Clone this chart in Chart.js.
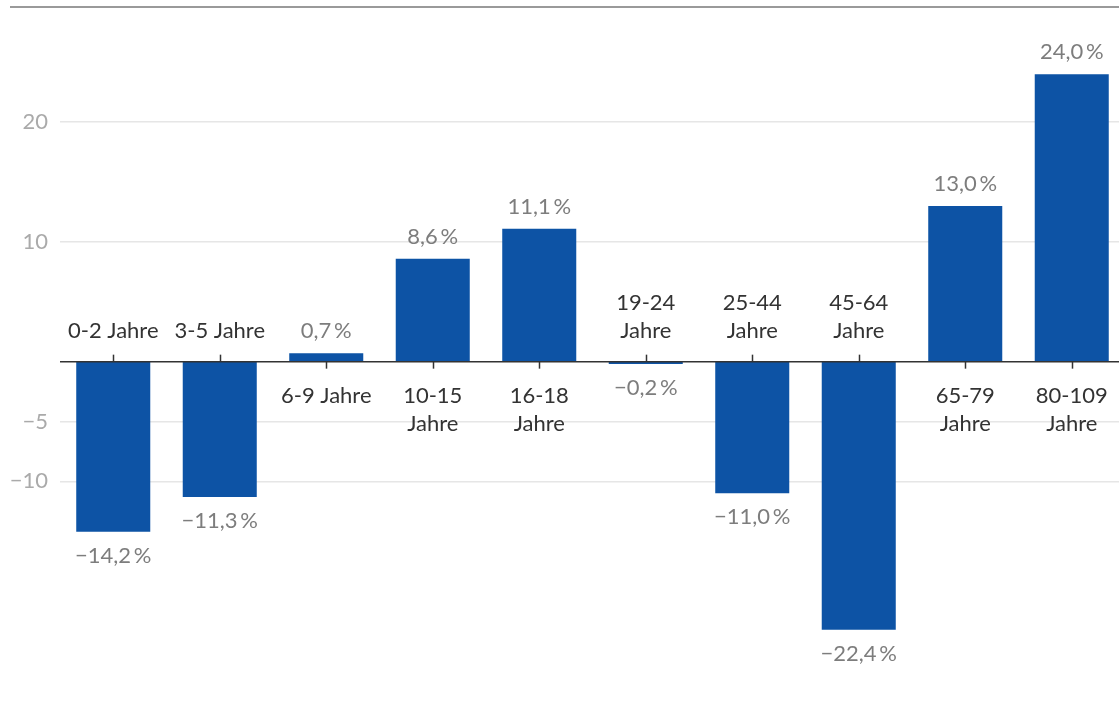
<!DOCTYPE html>
<html lang="de">
<head>
<meta charset="utf-8">
<script src="https://cdn.jsdelivr.net/npm/chart.js@4"></script>
<style>
  html, body { margin: 0; padding: 0; background: #fff; overflow: hidden; }
  #wrap { position: relative; width: 1119px; height: 706px; overflow: hidden; }
  #topline { position: absolute; left: 10px; right: 0; top: 6px; border-top: 2px solid #9a9a9a; }
  canvas { position: absolute; left: 0; top: 0; }
</style>
</head>
<body>
<div id="wrap">
  <div id="topline"></div>
  <canvas id="chart" width="1125" height="706"></canvas>
</div>
<script>
const CATEGORIES = [
  ['0-2 Jahre'], ['3-5 Jahre'], ['6-9 Jahre'], ['10-15', 'Jahre'], ['16-18', 'Jahre'],
  ['19-24', 'Jahre'], ['25-44', 'Jahre'], ['45-64', 'Jahre'], ['65-79', 'Jahre'], ['80-109', 'Jahre']
];
const VALUES = [-14.2, -11.3, 0.7, 8.6, 11.1, -0.2, -11.0, -22.4, 13.0, 24.0];
const Y_TICKS = [-10, -5, 10, 20];

const FONT = 'Lato, "Noto Sans", sans-serif';
const FONT_SIZE = 22;
const BAR_COLOR = '#0d53a5';
const fmtNum = (v) => String(v).replace('-', '\u2212');
const fmtPct = (v) => v.toFixed(1).replace('.', ',').replace('-', '\u2212') + '\u2009%';

// zero line, category ticks, category labels, value labels
const labelsPlugin = {
  id: 'labels',
  afterDatasetsDraw(chart) {
    const { ctx, chartArea } = chart;
    const y0 = chart.scales.y.getPixelForValue(0);
    const meta = chart.getDatasetMeta(0);
    ctx.save();
    ctx.strokeStyle = '#333';
    ctx.lineWidth = 1.5;
    ctx.beginPath();
    ctx.moveTo(chartArea.left, y0);
    ctx.lineTo(chartArea.right, y0);
    ctx.stroke();

    ctx.font = FONT_SIZE + 'px ' + FONT;
    ctx.textAlign = 'center';
    ctx.textBaseline = 'middle';
    meta.data.forEach((bar, i) => {
      const v = VALUES[i];
      const lines = CATEGORIES[i];
      const x = Math.round(bar.x) + 0.5;
      ctx.beginPath();
      ctx.lineWidth = 1.5;
      ctx.strokeStyle = '#333';
      if (v < 0) { ctx.moveTo(x, y0 - 7); ctx.lineTo(x, y0); }
      else { ctx.moveTo(x, y0); ctx.lineTo(x, y0 + 7); }
      ctx.stroke();

      ctx.fillStyle = '#333';
      lines.forEach((t, k) => {
        const yy = v < 0 ? y0 - 31 - (lines.length - 1 - k) * 28 : y0 + 34 + k * 28;
        ctx.fillText(t, bar.x, yy);
      });

      ctx.fillStyle = '#7d7d7d';
      const ly = v < 0 ? bar.y + 24 : bar.y - 22;
      ctx.fillText(fmtPct(v), bar.x, ly);
    });
    ctx.restore();
  }
};

new Chart(document.getElementById('chart'), {
  type: 'bar',
  data: {
    labels: CATEGORIES.map(c => c.join(' ')),
    datasets: [{ data: VALUES, backgroundColor: BAR_COLOR, barPercentage: 0.695, categoryPercentage: 1 }]
  },
  options: {
    responsive: false,
    animation: false,
    layout: { padding: { top: 0, bottom: 45, left: 0, right: 0 } },
    plugins: { legend: { display: false }, tooltip: { enabled: false } },
    scales: {
      x: { display: false },
      y: {
        min: -25, max: 28.1,
        afterBuildTicks: (s) => { s.ticks = Y_TICKS.map(v => ({ value: v })); },
        afterFit: (s) => { s.width = 60; },
        border: { display: false },
        grid: { color: '#e6e6e6', lineWidth: 1.5, drawTicks: false },
        ticks: { color: '#aaa', padding: 12, font: { family: FONT, size: FONT_SIZE }, callback: (v) => fmtNum(v) }
      }
    }
  },
  plugins: [labelsPlugin]
});
</script>
</body>
</html>
